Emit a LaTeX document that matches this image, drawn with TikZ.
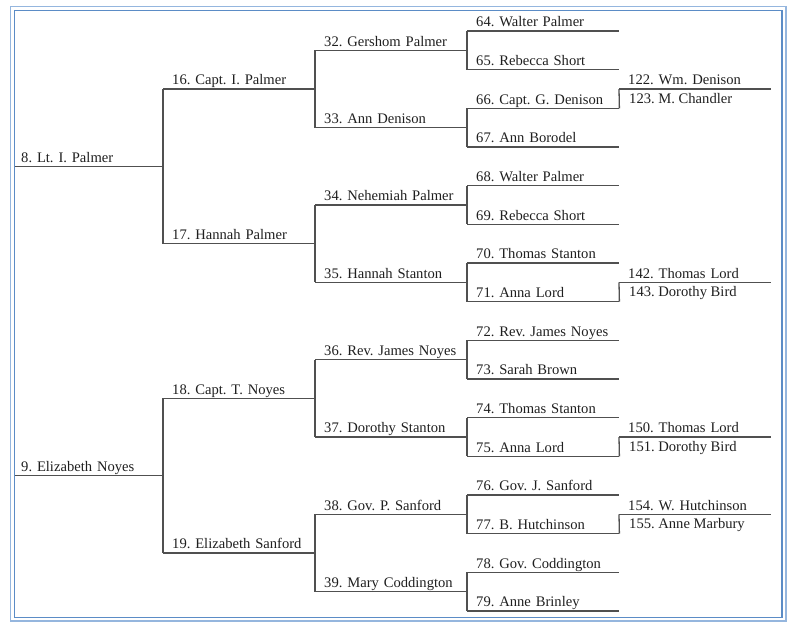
\documentclass[tikz,border=0pt]{standalone}
\usepackage{fontspec}
\setmainfont{Liberation Serif}
\frenchspacing
\usetikzlibrary{calc}
\definecolor{frameout}{HTML}{95B6DE}
\definecolor{framein}{HTML}{5B8CC6}
\definecolor{treegray}{HTML}{505050}
\tikzset{
	tree line/.style={line width=1.3pt, color=treegray},
	who/.style={anchor=south west, inner xsep=9pt, inner ysep=4pt, text width=#1, align=left,
		text height=10pt, text depth=0pt, font=\fontsize{14.6}{16}\selectfont, text=black!88,
		append after command={(\tikzlastnode.south west) edge[tree line] (\tikzlastnode.south east)}},
	who/.default=134pt,
	below who/.style={anchor=north west, inner xsep=10pt, inner ysep=4pt, text height=10pt,
		text depth=0pt, font=\fontsize{14.6}{16}\selectfont, text=black!88}
}
\begin{document}
\begin{tikzpicture}[x=1pt, y=-1pt]
			%%%%% FRAME %%%%%
			\useasboundingbox (0, 0) rectangle (801, 632);
			\draw[line width=1.6pt, color=frameout] (10.5, 6.5) rectangle (786, 621);
			\draw[line width=1.6pt, color=framein] (14.5, 10.5) rectangle (782, 617.5);
			
			%%%%% GENERATION 1 %%%%%
			\node[who=136pt, inner xsep=6pt] (n8) at (15, 166.3) {8. Lt. I. Palmer};
			\node[who=136pt, inner xsep=6pt] (n9) at (15, 475.7) {9. Elizabeth Noyes};
			
			%%%%% GENERATION 2 %%%%%
			\node[who] (n16) at (163, 89) {16. Capt. I. Palmer};
			\node[who] (n17) at (163, 243.7) {17. Hannah Palmer};
			\node[who] (n18) at (163, 398.3) {18. Capt. T. Noyes};
			\node[who] (n19) at (163, 553) {19. Elizabeth Sanford};
			
			\draw[tree line] (n16.south west) -- (n17.south west);
			\draw[tree line] (n18.south west) -- (n19.south west);
			
			%%%%% GENERATION 3 %%%%%
			\node[who] (n32) at (315, 50.3) {32. Gershom Palmer};
			\node[who] (n33) at (315, 127.7) {33. Ann Denison};
			\node[who] (n34) at (315, 205) {34. Nehemiah Palmer};
			\node[who] (n35) at (315, 282.3) {35. Hannah Stanton};
			\node[who] (n36) at (315, 359.7) {36. Rev. James Noyes};
			\node[who] (n37) at (315, 437) {37. Dorothy Stanton};
			\node[who] (n38) at (315, 514.3) {38. Gov. P. Sanford};
			\node[who] (n39) at (315, 591.7) {39. Mary Coddington};
			
			\draw[tree line] (n32.south west) -- (n33.south west);
			\draw[tree line] (n34.south west) -- (n35.south west);
			\draw[tree line] (n36.south west) -- (n37.south west);
			\draw[tree line] (n38.south west) -- (n39.south west);
			
			%%%%% GENERATION 4 %%%%%
			\node[who] (n64) at (467, 31) {64. Walter Palmer};
			\node[who] (n65) at (467, 69.7) {65. Rebecca Short};
			\node[who] (n66) at (467, 108.3) {66. Capt. G. Denison};
			\node[who] (n67) at (467, 147) {67. Ann Borodel};
			\node[who] (n68) at (467, 185.7) {68. Walter Palmer};
			\node[who] (n69) at (467, 224.3) {69. Rebecca Short};
			\node[who] (n70) at (467, 263) {70. Thomas Stanton};
			\node[who] (n71) at (467, 301.7) {71. Anna Lord};
			\node[who] (n72) at (467, 340.3) {72. Rev. James Noyes};
			\node[who] (n73) at (467, 379) {73. Sarah Brown};
			\node[who] (n74) at (467, 417.7) {74. Thomas Stanton};
			\node[who] (n75) at (467, 456.3) {75. Anna Lord};
			\node[who] (n76) at (467, 495) {76. Gov. J. Sanford};
			\node[who] (n77) at (467, 533.7) {77. B. Hutchinson};
			\node[who] (n78) at (467, 572.3) {78. Gov. Coddington};
			\node[who] (n79) at (467, 611) {79. Anne Brinley};
			
			\draw[tree line] (n64.south west) -- (n65.south west);
			\draw[tree line] (n66.south west) -- (n67.south west);
			\draw[tree line] (n68.south west) -- (n69.south west);
			\draw[tree line] (n70.south west) -- (n71.south west);
			\draw[tree line] (n72.south west) -- (n73.south west);
			\draw[tree line] (n74.south west) -- (n75.south west);
			\draw[tree line] (n76.south west) -- (n77.south west);
			\draw[tree line] (n78.south west) -- (n79.south west);
			
			%%%%% GENERATION 5 %%%%%
			\node[who] (n122) at (619, 89) {122. Wm. Denison};
			\node[below who] (n123) at (n122.south west) {123. M. Chandler};
			\node[who] (n142) at (619, 282.3) {142. Thomas Lord};
			\node[below who] (n143) at (n142.south west) {143. Dorothy Bird};
			\node[who] (n150) at (619, 437) {150. Thomas Lord};
			\node[below who] (n151) at (n150.south west) {151. Dorothy Bird};
			\node[who] (n154) at (619, 514.3) {154. W. Hutchinson};
			\node[below who] (n155) at (n154.south west) {155. Anne Marbury};
			
			\draw[tree line] (n66.south east) -- (n122.south west);
			\draw[tree line] (n71.south east) -- (n142.south west);
			\draw[tree line] (n75.south east) -- (n150.south west);
			\draw[tree line] (n77.south east) -- (n154.south west);
			
\end{tikzpicture}
\end{document}
